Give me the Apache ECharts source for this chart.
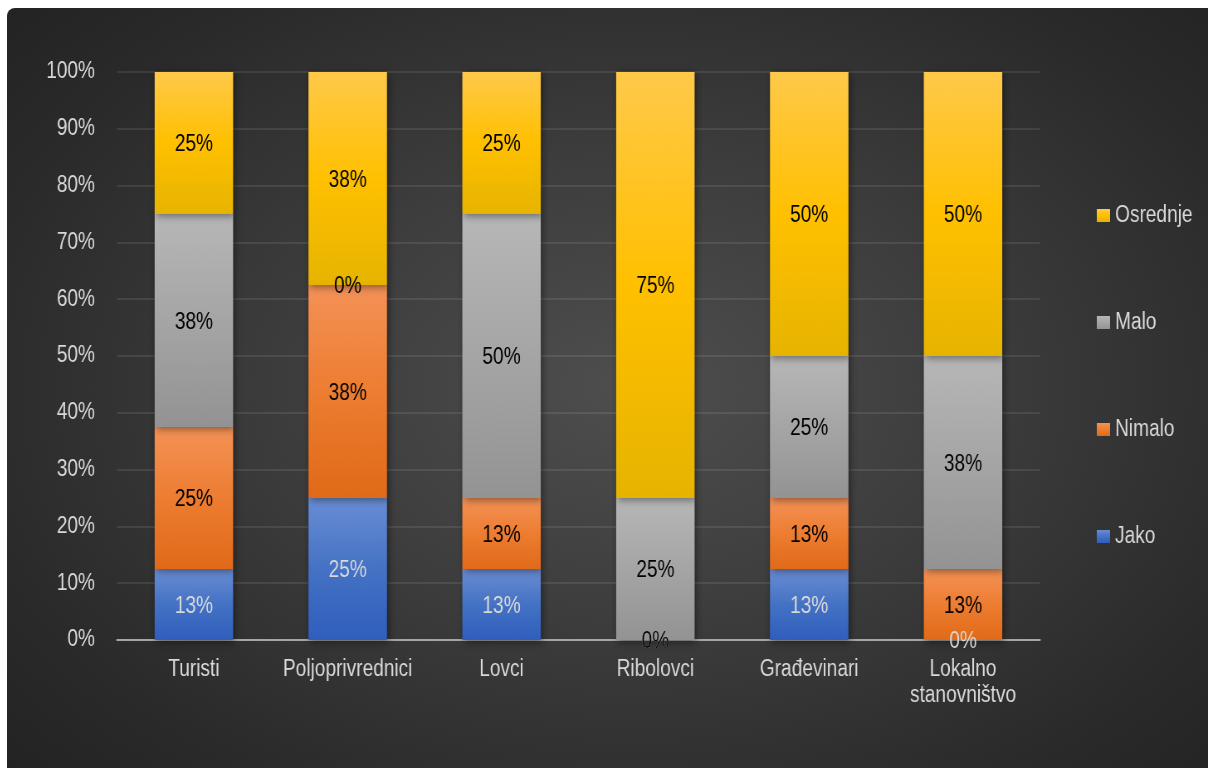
<!DOCTYPE html>
<html>
<head>
<meta charset="utf-8">
<title>Stacked bars</title>
<script src="https://cdn.jsdelivr.net/npm/echarts@6/dist/echarts.min.js"></script>
<style>
  html, body { margin: 0; padding: 0; background: #ffffff; width: 1208px; height: 768px; overflow: hidden; }
  #panel {
    position: absolute; left: 7px; top: 8px; width: 1201px; height: 760px;
    border-top-left-radius: 8px; overflow: hidden;
    background: radial-gradient(ellipse 70% 75% at 52% 50%, #4e4e4e 0%, #3d3d3d 40%, #2a2a2a 80%, #232323 100%);
  }
  /* the chart is laid out wider and condensed horizontally, giving narrow lettering */
  #chart {
    position: absolute; left: 0; top: 0; width: 1447px; height: 760px;
    transform: scaleX(0.83); transform-origin: 0 0;
  }
</style>
</head>
<body>
<div id="panel"><div id="chart"></div></div>
<script>
// Categories and shares (%) per answer group
const categories = ['Turisti', 'Poljoprivrednici', 'Lovci', 'Ribolovci', 'Građevinari', 'Lokalno stanovništvo'];
const jako     = [12.5, 25,   12.5, 0,  12.5, 0];
const nimalo   = [25,   37.5, 12.5, 0,  12.5, 12.5];
const malo     = [37.5, 0,    50,   25, 25,   37.5];
const osrednje = [25,   37.5, 25,   75, 50,   50];
const legendOrder = ['Osrednje', 'Malo', 'Nimalo', 'Jako'];

const FONT = "'Liberation Sans', Arial, sans-serif";
const LIGHT = '#d9d9d9';

function grad(top, mid, bottom) {
  return new echarts.graphic.LinearGradient(0, 0, 0, 1, [
    { offset: 0, color: top },
    { offset: 0.5, color: mid },
    { offset: 1, color: bottom }
  ]);
}

function makeSeries(name, data, fill, labelColor) {
  return {
    name: name,
    type: 'bar',
    stack: 'total',
    data: data,
    barCategoryGap: '49%',
    itemStyle: {
      color: fill,
      shadowBlur: 8,
      shadowColor: 'rgba(0,0,0,0.45)',
      shadowOffsetX: 2,
      shadowOffsetY: 2
    },
    label: {
      show: true,
      position: 'inside',
      offset: [0, 2],
      color: labelColor,
      fontFamily: FONT,
      fontSize: 23,
      formatter: p => Math.round(p.value) + '%'
    },
    emphasis: { disabled: true }
  };
}

const chart = echarts.init(document.getElementById('chart'), null, { renderer: 'canvas' });
chart.setOption({
  backgroundColor: 'transparent',
  animation: false,
  textStyle: { fontFamily: FONT },
  grid: { left: 132.5, top: 64, width: 1112, height: 568, containLabel: false },
  legend: {
    data: legendOrder,
    orient: 'vertical',
    left: 1308,
    top: 191,
    itemWidth: 16,
    itemHeight: 13,
    itemGap: 84,
    icon: 'rect',
    textStyle: { color: LIGHT, fontSize: 23, fontFamily: FONT, padding: [0, 0, 0, 1] },
    selectedMode: false
  },
  xAxis: {
    type: 'category',
    data: categories,
    axisLine: { lineStyle: { color: '#a6a6a6', width: 2 } },
    axisTick: { show: false },
    axisLabel: {
      color: LIGHT,
      fontSize: 23,
      fontFamily: FONT,
      lineHeight: 26,
      margin: 17,
      interval: 0,
      formatter: v => v.replace(' ', '\n')
    }
  },
  yAxis: {
    type: 'value',
    min: 0,
    max: 100,
    interval: 10,
    axisLine: { show: false },
    axisTick: { show: false },
    axisLabel: {
      color: LIGHT, fontSize: 23, fontFamily: FONT, margin: 26.5,
      padding: [4, 0, 0, 0],
      formatter: '{value}%'
    },
    splitLine: { lineStyle: { color: 'rgba(255,255,255,0.12)', width: 1.5 } }
  },
  series: [
    makeSeries('Jako', jako, grad('#6a8dd5', '#4472c4', '#2f5ebd'), LIGHT),
    makeSeries('Nimalo', nimalo, grad('#f49257', '#ed7d31', '#e06a18'), '#000000'),
    makeSeries('Malo', malo, grad('#b7b7b7', '#a5a5a5', '#939393'), '#000000'),
    makeSeries('Osrednje', osrednje, grad('#ffc94a', '#ffc000', '#e6b400'), '#000000')
  ]
});
</script>
</body>
</html>
